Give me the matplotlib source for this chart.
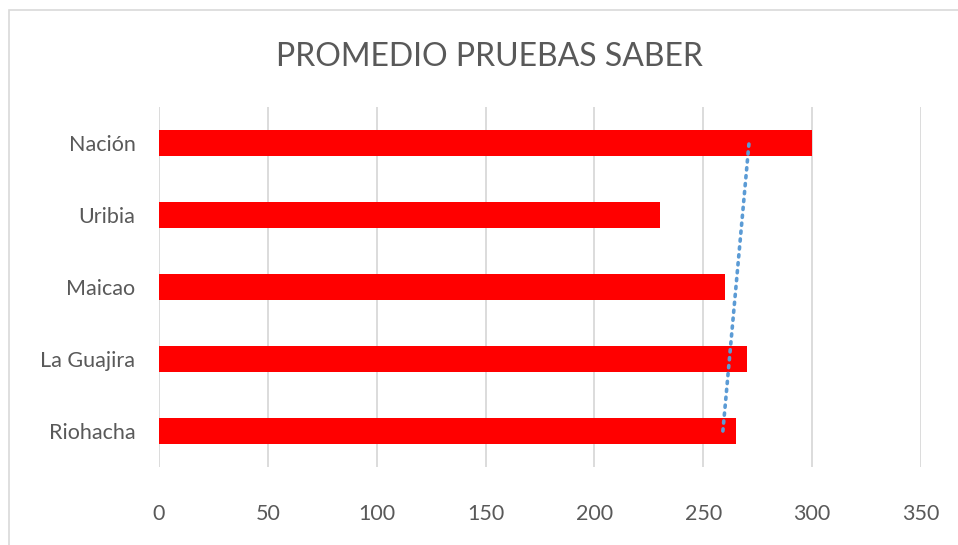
import matplotlib

matplotlib.use("Agg")
import matplotlib.pyplot as plt
import numpy as np
from matplotlib.patches import Rectangle

# data (bottom to top, as drawn)
categories = ["Riohacha", "La Guajira", "Maicao", "Uribia", "Nación"]
scores = [265, 270, 260, 230, 300]
x_ticks = [0, 50, 100, 150, 200, 250, 300, 350]

TEXT = "#595959"
GRID = "#d9d9d9"

plt.rcParams["font.family"] = ["Lato", "DejaVu Sans"]

fig = plt.figure(figsize=(9.58, 5.45), dpi=100)
ax = fig.add_axes([159 / 958, 78 / 545, 762 / 958, 360 / 545])

ypos = np.arange(len(categories))
ax.barh(ypos, scores, height=0.35, color="#ff0000", zorder=2)

# linear trendline across categories (Excel style)
coef = np.polyfit(ypos + 1, scores, 1)
trend = np.polyval(coef, ypos + 1)
ax.plot(trend, ypos, color="#5b9bd5", linestyle=(0, (0.6, 1.6)),
        linewidth=2.6, dash_capstyle="round", zorder=3)

ax.set_xlim(0, 350)
ax.set_ylim(-0.5, len(categories) - 0.5)
ax.set_xticks(x_ticks)
ax.set_yticks(ypos)
ax.set_yticklabels(categories)
ax.grid(axis="x", color=GRID, linewidth=1.3, zorder=0)
ax.tick_params(axis="both", length=0, labelsize=15.5, colors=TEXT)
ax.tick_params(axis="y", pad=17)
ax.tick_params(axis="x", pad=27)
for s in ax.spines.values():
    s.set_visible(False)

fig.text(489 / 958, 1 - 57 / 545, "PROMEDIO PRUEBAS SABER", ha="center",
         va="center", fontsize=23, color=TEXT)

# chart frame
fig.patches.append(Rectangle((9 / 958, -0.05), 1.0, 1 - 10 / 545 + 0.05,
                             transform=fig.transFigure, fill=False,
                             edgecolor=GRID, linewidth=1.2))

fig.savefig("out.png", dpi=100)
